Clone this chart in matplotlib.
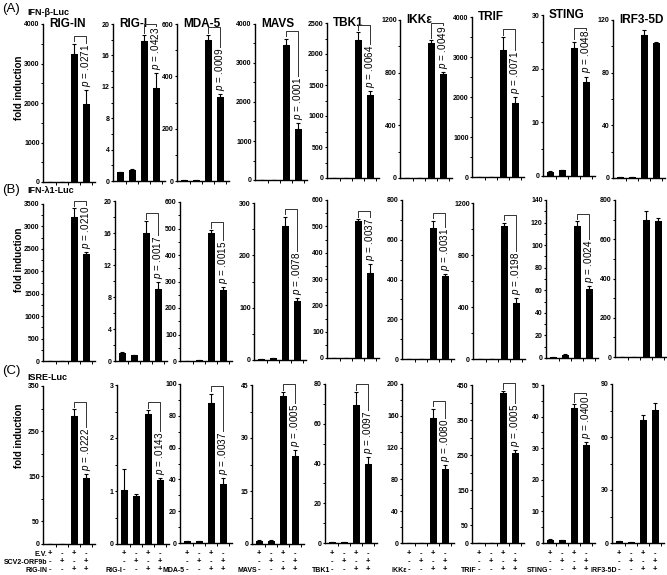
import matplotlib
matplotlib.use('Agg')
import matplotlib.pyplot as plt
from matplotlib.transforms import blended_transform_factory
import numpy as np

plt.rcParams['font.family'] = ['Liberation Sans', 'DejaVu Sans']
plt.rcParams['mathtext.fontset'] = 'custom'
plt.rcParams['mathtext.it'] = 'Liberation Sans:italic'
plt.rcParams['mathtext.rm'] = 'Liberation Sans'

# ---------------- data ----------------
proteins = ["RIG-IN", "RIG-I", "MDA-5", "MAVS", "TBK1", "IKKε", "TRIF", "STING", "IRF3-5D"]
reporters = ["IFN-β-Luc", "IFN-λ1-Luc", "ISRE-Luc"]
panel_letters = ["(A)", "(B)", "(C)"]

ev_signs = ["+", "-", "+", "-"]
orf9b_signs = ["-", "+", "-", "+"]
protein_signs = ["-", "-", "+", "+"]
row_labels = ["E.V.", "SCV2-ORF9b"]

# (A) IFN-beta-Luc
ifnb_vals = [[0, 0, 3250, 1970], [1.1, 1.4, 17.8, 11.8], [2, 2, 540, 322],
             [0, 0, 3470, 1310], [0, 0, 2220, 1333], [0, 0, 1022, 789],
             [0, 0, 3170, 1850], [0.8, 1.1, 23.8, 17.6], [0.5, 0.8, 108.6, 102.3]]
ifnb_errs = [[0, 0, 250, 350], [0.1, 0.15, 0.8, 2.0], [0, 0, 18, 10],
             [0, 0, 150, 150], [0, 0, 130, 65], [0, 0, 25, 18],
             [0, 0, 330, 150], [0.1, 0.1, 1.2, 0.9], [0.2, 0.2, 3.5, 0.8]]
ifnb_p = [".0271", ".0423", ".0009", ".0001", ".0064", ".0049", ".0071", ".0048", None]
ifnb_ymax = [4000, 20, 600, 4000, 2500, 1200, 4000, 30, 120]
ifnb_ticks = [1000, 4, 200, 1000, 500, 400, 1000, 10, 40]

# (B) IFN-lambda1-Luc
ifnl_vals = [[0, 0, 3217, 2383], [1.0, 0.7, 16.0, 9.0], [1, 3, 482, 268],
             [2, 3, 256, 112], [0, 0, 522, 322], [0, 0, 660, 420],
             [0, 0, 1020, 430], [1, 3, 117, 61], [0, 0, 700, 695]]
ifnl_errs = [[0, 0, 186, 52], [0.1, 0.1, 1.5, 0.9], [0, 0, 12, 10],
             [0.5, 1, 18, 7], [0, 0, 5, 35], [0, 0, 35, 8],
             [0, 0, 30, 38], [0.3, 0.5, 4, 3], [0, 0, 45, 12]]
ifnl_p = [".0210", ".0017", ".0015", ".0078", ".0037", ".0031", ".0198", ".0024", None]
ifnl_ymax = [3500, 20, 600, 300, 600, 800, 1200, 140, 800]
ifnl_ticks = [500, 4, 100, 100, 100, 200, 400, 20, 200]

# (C) ISRE-Luc
isre_vals = [[0, 0, 283, 147], [1.02, 0.91, 2.45, 1.21], [1, 1, 88, 37],
             [0.9, 0.9, 42, 25], [0.5, 0.5, 69.5, 39.7], [0.5, 0.5, 157, 93],
             [0, 0, 426, 256], [1.0, 0.8, 42.6, 31], [1, 0.5, 69.8, 75.5]]
isre_errs = [[0, 0, 15, 8], [0.39, 0.03, 0.08, 0.04], [0, 0, 6, 4],
             [0.1, 0.1, 1, 1.5], [0, 0, 6.5, 3.5], [0, 0, 12, 5],
             [0, 0, 7, 9], [0.2, 0.2, 1.3, 1], [0.2, 0.1, 2.8, 3.7]]
isre_p = [".0222", ".0143", ".0037", ".0005", ".0097", ".0080", ".0005", ".0400", None]
isre_ymax = [350, 3, 100, 45, 80, 200, 450, 50, 90]
isre_ticks = [[0, 50, 150, 250, 350], 1, 20, 15, 20, 40,
              [0, 50, 150, 250, 350, 450], 10, 30]

rows_vals = [ifnb_vals, ifnl_vals, isre_vals]
rows_errs = [ifnb_errs, ifnl_errs, isre_errs]
rows_p = [ifnb_p, ifnl_p, isre_p]
rows_ymax = [ifnb_ymax, ifnl_ymax, isre_ymax]
rows_ticks = [ifnb_ticks, ifnl_ticks, isre_ticks]

# ---------------- layout (pixels) ----------------
W, H = 667, 575
lefts = [[43, 113, 177, 255, 327, 400, 472, 543, 613],
         [43, 115, 180, 254, 327, 402, 473, 546, 615],
         [43, 117, 180, 252, 325, 402, 472, 543, 612]]
zeros = [[182, 181, 181, 180, 178, 178, 177, 176, 178],
         [361, 361, 361, 360, 358, 359, 359, 358, 357],
         [544, 544, 543, 544, 543, 543, 543, 543, 543]]
tops = [[24, 24, 24, 24, 23, 20, 17, 15, 20],
        [204, 201, 202, 203, 200, 200, 203, 200, 200],
        [386, 385, 384, 385, 384, 384, 385, 385, 384]]
AXW = 52
letter_y = [9, 190, 371]
reporter_y = [12.5, 191, 377]
ylabel_y = [88, 260, 436]
sign_y = [554, 562, 570]

fig = plt.figure(figsize=(W / 100, H / 100), dpi=100)
x = np.arange(4)
pending = []

for r in range(3):
    fig.text(2 / W, 1 - letter_y[r] / H, panel_letters[r], fontsize=9.5,
             ha='left', va='center')
    fig.text(27 / W, 1 - reporter_y[r] / H, reporters[r], fontsize=6.5,
             fontweight='bold', ha='left', va='center')
    fig.text(19.5 / W, 1 - ylabel_y[r] / H, "fold induction", fontsize=7,
             fontweight='bold', rotation=90, ha='center', va='center')
    for c in range(9):
        left, zero, top = lefts[r][c], zeros[r][c], tops[r][c]
        ax = fig.add_axes([left / W, 1 - zero / H, AXW / W, (zero - top) / H])
        vals = np.array(rows_vals[r][c], dtype=float)
        errs = np.array(rows_errs[r][c], dtype=float)
        ymax = rows_ymax[r][c]
        tk = rows_ticks[r][c]
        ax.bar(x, vals, width=0.56, color='black', zorder=2)
        ax.errorbar(x, vals, yerr=[np.zeros(4), errs], fmt='none', ecolor='black',
                    elinewidth=0.8, capsize=1.3, capthick=0.8, zorder=3)
        ax.set_xlim(-0.6, 3.73)
        ax.set_ylim(0, ymax)
        if isinstance(tk, list):
            major = tk
            minor = [(a + b) / 2 for a, b in zip(tk[1:-1], tk[2:])]
        else:
            major = list(np.arange(0, ymax + tk * 0.5, tk))
            minor = list(np.arange(tk / 2, ymax, tk))
        ax.set_yticks(major)
        ax.set_yticks(minor, minor=True)
        ax.set_yticklabels([f"{t:g}" for t in major], fontweight='bold', fontsize=5)
        ax.set_xticks([0.5, 1.5, 2.5, 3.5])
        ax.set_xticklabels([])
        ax.tick_params(axis='y', which='major', length=1.8, width=0.8, pad=0.5)
        ax.tick_params(axis='y', which='minor', length=1.3, width=0.7)
        ax.tick_params(axis='x', length=1.8, width=0.7)
        for s in ['top', 'right']:
            ax.spines[s].set_visible(False)
        for s in ['left', 'bottom']:
            ax.spines[s].set_linewidth(1.0)
        ax.patch.set_alpha(0)

        if r == 0:
            ax.annotate(proteins[c], xy=(0, 1), xycoords='axes fraction',
                        xytext=(4.3, 0), textcoords='offset points',
                        fontsize=8.5, fontweight='bold', ha='left', va='center')

        pv = rows_p[r][c]
        if pv is not None:
            t4 = vals[3] + errs[3] + 0.02 * ymax
            txt = ax.text(3, t4, r"$p$ = " + pv, rotation=90, ha='center',
                          va='bottom', fontsize=7.1, zorder=4)
            pending.append((ax, txt, vals[2] + errs[2], ymax))

        if r == 2:
            tr = blended_transform_factory(ax.transData, fig.transFigure)
            signs = [ev_signs, orf9b_signs, protein_signs]
            for k in range(3):
                yf = 1 - sign_y[k] / H
                for i in range(4):
                    ax.text(x[i], yf, signs[k][i], transform=tr, fontsize=5.5,
                            fontweight='bold', ha='center', va='center')
            if c == 0:
                labs = row_labels + [proteins[0]]
                for k in range(3):
                    ax.annotate(labs[k], xy=(x[0], 1 - sign_y[k] / H), xycoords=tr,
                                xytext=(-2.0, 0), textcoords='offset points',
                                fontsize=5, fontweight='bold', ha='right', va='center',
                                annotation_clip=False)
            else:
                ax.annotate(proteins[c], xy=(x[0], 1 - sign_y[2] / H), xycoords=tr,
                            xytext=(-1.6, 0), textcoords='offset points',
                            fontsize=5, fontweight='bold', ha='right', va='center',
                            annotation_clip=False)

fig.canvas.draw()
for ax, txt, b3, ymax in pending:
    bb = txt.get_window_extent()
    ttop = ax.transData.inverted().transform((0, bb.y1))[1]
    ybr = max(b3 + 0.05 * ymax, ttop + 0.012 * ymax)
    ax.plot([2, 2, 3, 3], [b3 + 0.015 * ymax, ybr, ybr, ttop + 0.004 * ymax],
            color='#333333', lw=0.7, clip_on=False, zorder=4)

fig.savefig("out.png", dpi=100)
